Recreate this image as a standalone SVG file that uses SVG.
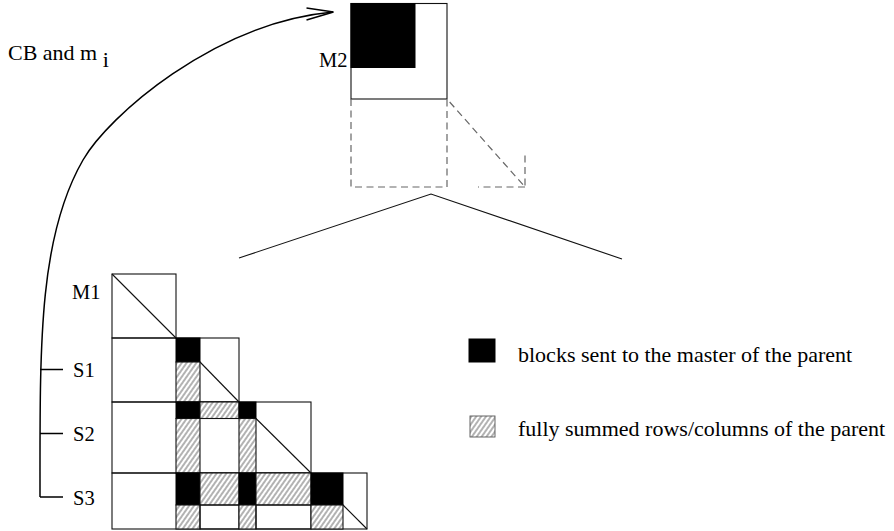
<svg xmlns="http://www.w3.org/2000/svg" width="894" height="531" viewBox="0 0 894 531">
<style>
text{font-family:"Liberation Serif","Times New Roman",serif;fill:#000}
.lbl{font-size:20.5px}
.big{font-size:22px}
.ln{fill:none;stroke:#111;stroke-width:1.1}
.blk{fill:#000;stroke:#000;stroke-width:1}
.hat{fill:url(#hatch);stroke:#111;stroke-width:1.1}
.dash{fill:none;stroke:#666;stroke-width:1.2;stroke-dasharray:7 4.5}
.conn{fill:none;stroke:#000;stroke-width:1.5}
</style>
<defs>
<pattern id="hatch" patternUnits="userSpaceOnUse" width="4" height="4" patternTransform="rotate(35)">
<rect width="4" height="4" fill="#fff"/>
<line x1="1" y1="0" x2="1" y2="4" stroke="#555" stroke-width="0.9"/>
</pattern>
</defs>
<rect width="894" height="531" fill="#fff"/>

<g id="cb-label">
<text class="big" x="8" y="60">CB and m <tspan dy="7">i</tspan></text>
</g>

<g id="m2">
<rect class="ln" x="351" y="3.5" width="96" height="95.5"/>
<rect class="blk" x="351" y="3.5" width="64" height="64"/>
<text class="lbl" x="319" y="67">M2</text>
<path class="dash" d="M351 99 V187 H447 V99 L525 187 V152 M525 187 H478"/>
</g>

<g id="zoom-lines">
<polyline class="ln" points="239,258 431,194 622,259"/>
</g>

<g id="m1">
<rect class="ln" x="112" y="274" width="64" height="64"/>
<line class="ln" x1="112" y1="274" x2="176" y2="338"/>
<text class="lbl" x="72" y="299">M1</text>
</g>

<g id="s1">
<rect class="ln" x="112" y="338" width="127" height="64"/>
<rect class="blk" x="176" y="338" width="24" height="24"/>
<rect class="hat" x="176" y="362" width="24" height="40"/>
<line class="ln" x1="200" y1="362" x2="239" y2="402"/>
<text class="lbl" x="73" y="377">S1</text>
</g>

<g id="s2">
<rect class="ln" x="112" y="402" width="199" height="71"/>
<rect class="blk" x="176" y="402" width="24" height="16.5"/>
<rect class="hat" x="200" y="402" width="39" height="16.5"/>
<rect class="blk" x="239" y="402" width="17" height="16.5"/>
<rect class="hat" x="176" y="418.5" width="24" height="54.5"/>
<rect class="hat" x="239" y="418.5" width="17" height="54.5"/>
<line class="ln" x1="256" y1="418.5" x2="311" y2="473"/>
<text class="lbl" x="73" y="441">S2</text>
</g>

<g id="s3">
<rect class="ln" x="112" y="473" width="255" height="56"/>
<rect class="blk" x="176" y="473" width="24" height="32"/>
<rect class="hat" x="200" y="473" width="39" height="32"/>
<rect class="blk" x="239" y="473" width="17" height="32"/>
<rect class="hat" x="256" y="473" width="55" height="32"/>
<rect class="blk" x="311" y="473" width="32" height="32"/>
<rect class="hat" x="176" y="505" width="24" height="24"/>
<rect class="ln" x="200" y="505" width="39" height="24"/>
<rect class="hat" x="239" y="505" width="17" height="24"/>
<rect class="ln" x="256" y="505" width="55" height="24"/>
<rect class="hat" x="311" y="505" width="32" height="24"/>
<line class="ln" x1="343" y1="505" x2="367" y2="529"/>
<text class="lbl" x="73" y="505">S3</text>
</g>

<g id="legend">
<rect class="blk" x="469" y="339" width="26" height="23"/>
<text class="big" x="518" y="362">blocks sent to the master of the parent</text>
<rect fill="url(#hatch)" stroke="#555" stroke-width="0.9" x="470" y="416" width="25" height="21"/>
<text class="big" x="518" y="436">fully summed rows/columns of the parent</text>
</g>

<g id="connectors">
<path class="conn" d="M40 497 C40 347 38 238 83 160 C108 116.7 213.5 23 333 12"/>
<polyline class="conn" points="306.5,8 333.5,12 306.5,20"/>
<path class="conn" d="M40 369.5 H63 M40 433.5 H63 M40 497 H63"/>
</g>
</svg>
